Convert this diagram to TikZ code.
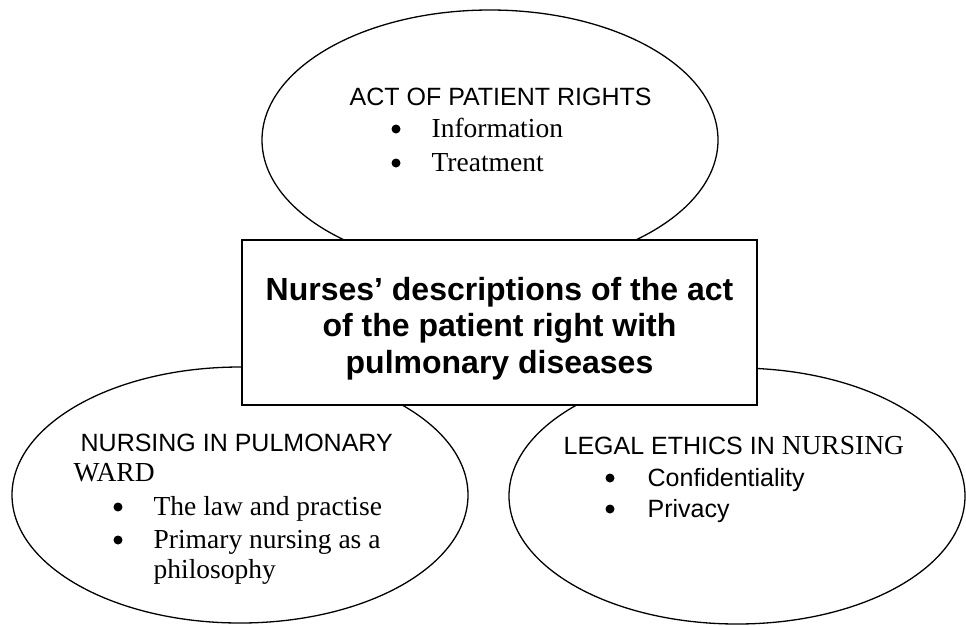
\documentclass[tikz,border=0pt]{standalone}
\usepackage{fontspec}
\setmainfont{Liberation Serif}
\setsansfont{Liberation Sans}
\usetikzlibrary{shapes.geometric}
\begin{document}
\begin{tikzpicture}[
    x=1pt,y=-1pt,
    line width=1.3pt
  ]
\def\ew{456pt}
\def\eh{256pt}

\tikzstyle{topic}=[ellipse,draw,minimum width=\ew,minimum height=\eh,inner sep=0pt];
\tikzstyle{head}=[font=\sffamily\fontsize{25}{30}\selectfont,anchor=base west,inner sep=0pt];
\tikzstyle{item}=[font=\fontsize{27.5}{33}\selectfont,anchor=base west,inner sep=0pt];
\tikzstyle{dot}=[circle,fill,inner sep=0pt,minimum size=9pt];

\useasboundingbox (0,0) rectangle (966,625);

% the three themes
\node[topic,minimum height=260pt] (rights) at (490,140) {};
\node[topic] (ward) at (240,495) {};
\node[topic] (ethics) at (737,496) {};

% main theme on top
\node[draw,fill=white,line width=1.5pt,minimum width=515pt,minimum height=165pt] (core) at (499.5,322.5) {};
\node[align=center,inner sep=0pt,font=\sffamily\bfseries\fontsize{32}{36.5}\selectfont]
  (title) at ([yshift=-6pt]core.center)
  {Nurses’ descriptions of the act\\of the patient right with\\pulmonary diseases};

% act of patient rights
\node[head] (rhead) at (349,105) {ACT OF PATIENT RIGHTS};
\node[dot] (rd1) at (396,129) {};
\node[item] (ri1) at (431,137) {Information};
\node[dot] (rd2) at (396,163) {};
\node[item] (ri2) at (431,171) {Treatment};

% nursing in pulmonary ward
\node[head] (whead) at (80,451) {NURSING IN PULMONARY};
\node[item] (whead2) at (73,481) {WARD};
\node[dot] (wd1) at (118,507) {};
\node[item] (wi1) at (153,515) {The law and practise};
\node[dot] (wd2) at (118,540) {};
\node[item] (wi2) at (153,548) {Primary nursing as a};
\node[item] (wi3) at (153,578) {philosophy};

% legal ethics
\node[head] (ehead) at (563,454) {LEGAL ETHICS IN {\rmfamily\fontsize{27.5}{33}\selectfont NURSING}};
\node[dot] (ed1) at (610,478) {};
\node[head] (ei1) at (647,486) {Confidentiality};
\node[dot] (ed2) at (610,509) {};
\node[head] (ei2) at (647,517) {Privacy};

\end{tikzpicture}
\end{document}
